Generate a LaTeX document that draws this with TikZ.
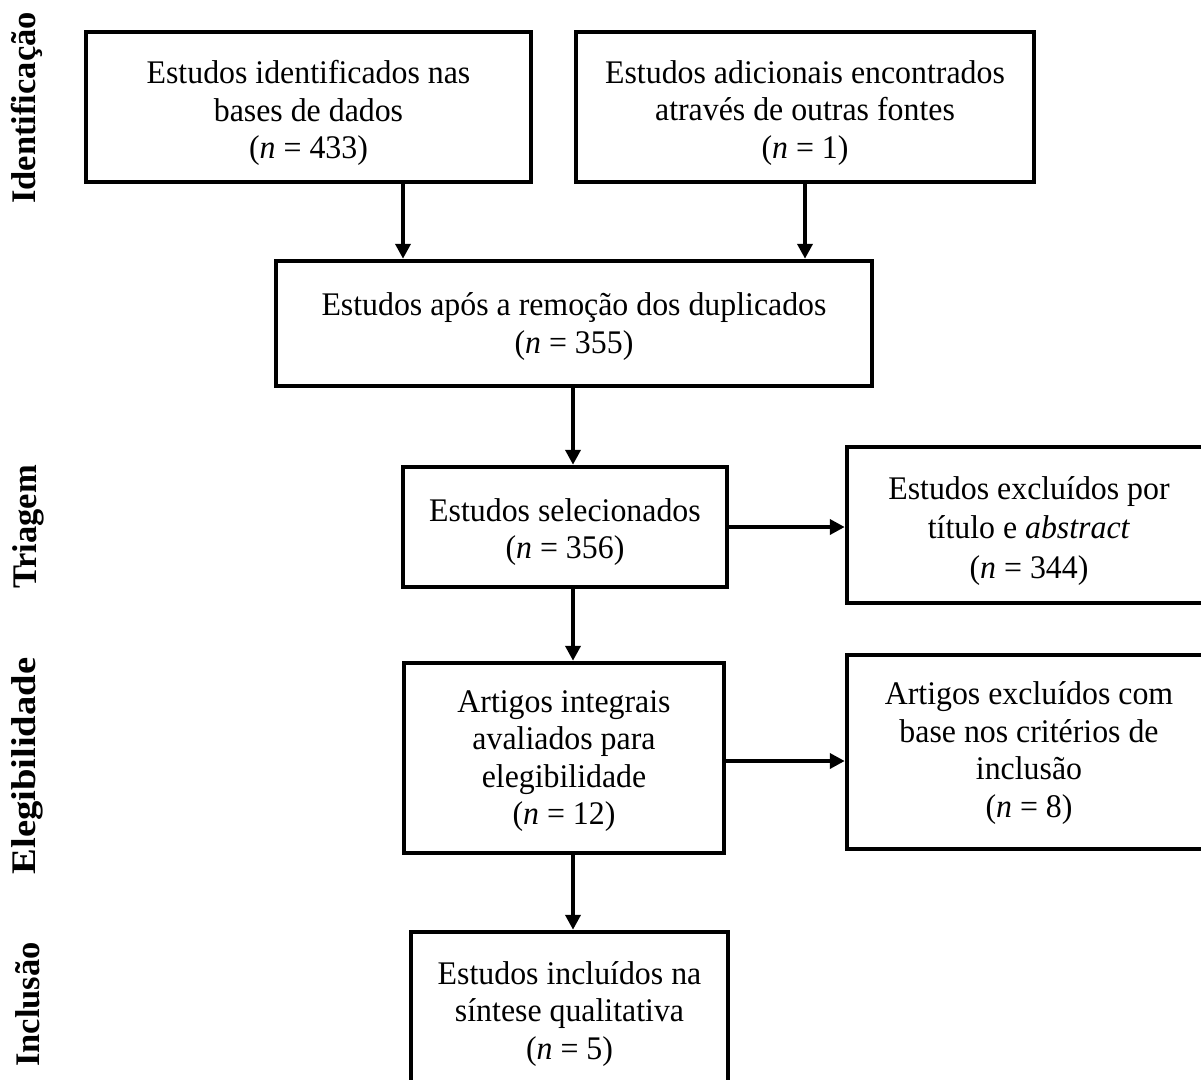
\documentclass[tikz,border=0pt]{standalone}
\usepackage{fontspec}
\setmainfont{Liberation Serif}
\newfontfamily\boxfont{Liberation Serif}[FakeStretch=0.965]
\usetikzlibrary{arrows.meta}
\tikzset{
  flowbox/.style={draw=black, line width=4.5pt, rectangle, inner sep=0pt},
  flowtext/.style={align=center, inner sep=0pt, font=\boxfont\fontsize{33}{37.5}\selectfont},
  flowarr/.style={draw=black, line width=4pt, -{Triangle[length=15pt,width=15pt]}},
  phase/.style={rotate=90, font=\fontsize{34.5}{38}\selectfont\bfseries, inner sep=0pt}
}
\begin{document}
\begin{tikzpicture}[x=1pt, y=-1pt]
\useasboundingbox (0,0) rectangle (1201,1079);
\clip (0,0) rectangle (1201,1079);
% phase labels
\node[phase] (p1) at (27,108) {Identificação};
\node[phase] (p2) at (28,527) {Triagem};
\node[phase] (p3) at (27,766) {\scalebox{1.12}[1]{Elegibilidade}};
\node[phase] (p4) at (28,1004.5) {Inclusão};
% boxes
\node[flowbox, minimum width=445pt, minimum height=150pt] (A) at (308.5,107) {};
\node[flowbox, minimum width=458pt, minimum height=150pt] (B) at (805,107) {};
\node[flowbox, minimum width=596pt, minimum height=125pt] (C) at (574,323.5) {};
\node[flowbox, minimum width=324pt, minimum height=120pt] (D) at (565,527) {};
\node[flowbox, minimum width=364pt, minimum height=156pt] (E) at (1029,525) {};
\node[flowbox, minimum width=320pt, minimum height=190pt] (F) at (564,758) {};
\node[flowbox, minimum width=364pt, minimum height=194pt] (G) at (1029,752) {};
\node[flowbox, minimum width=317pt, minimum height=158pt] (H) at (569.5,1011) {};
% box texts
\node[flowtext] (At) at ([yshift=-6pt]A.center)
  {Estudos identificados nas\\bases de dados\\(\textit{n} = 433)};
\node[flowtext] (Bt) at ([yshift=-6pt]B.center)
  {Estudos adicionais encontrados\\através de outras fontes\\(\textit{n} = 1)};
\node[flowtext] (Ct) at ([yshift=-3pt]C.center)
  {Estudos após a remoção dos duplicados\\(\textit{n} = 355)};
\node[flowtext] (Dt) at ([yshift=-5pt]D.center)
  {Estudos selecionados\\(\textit{n} = 356)};
\node[flowtext, font=\boxfont\fontsize{33}{39.5}\selectfont] (Et) at ([yshift=-6pt]E.center)
  {Estudos excluídos por\\título e \textit{abstract}\\(\textit{n} = 344)};
\node[flowtext] (Ft) at ([yshift=-3pt]F.center)
  {Artigos integrais\\avaliados para\\elegibilidade\\(\textit{n} = 12)};
\node[flowtext] (Gt) at ([yshift=-1pt]G.center)
  {Artigos excluídos com\\base nos critérios de\\inclusão\\(\textit{n} = 8)};
\node[flowtext] (Ht) at ([yshift=-3pt]H.center)
  {Estudos incluídos na\\síntese qualitativa\\(\textit{n} = 5)};
% connector guide coordinates
\coordinate (xa) at (403,0);
\coordinate (xm) at (573,0);
\coordinate (yf) at (0,761);
% connectors
\draw[flowarr] (A.south -| xa) -- (C.north -| xa);
\draw[flowarr] (B.south) -- (B.south |- C.north);
\draw[flowarr] (C.south -| xm) -- (D.north -| xm);
\draw[flowarr] (D.east) -- (D.east -| E.west);
\draw[flowarr] (D.south -| xm) -- (F.north -| xm);
\draw[flowarr] (F.east |- yf) -- (G.west |- yf);
\draw[flowarr] (F.south -| xm) -- (H.north -| xm);
\end{tikzpicture}
\end{document}
